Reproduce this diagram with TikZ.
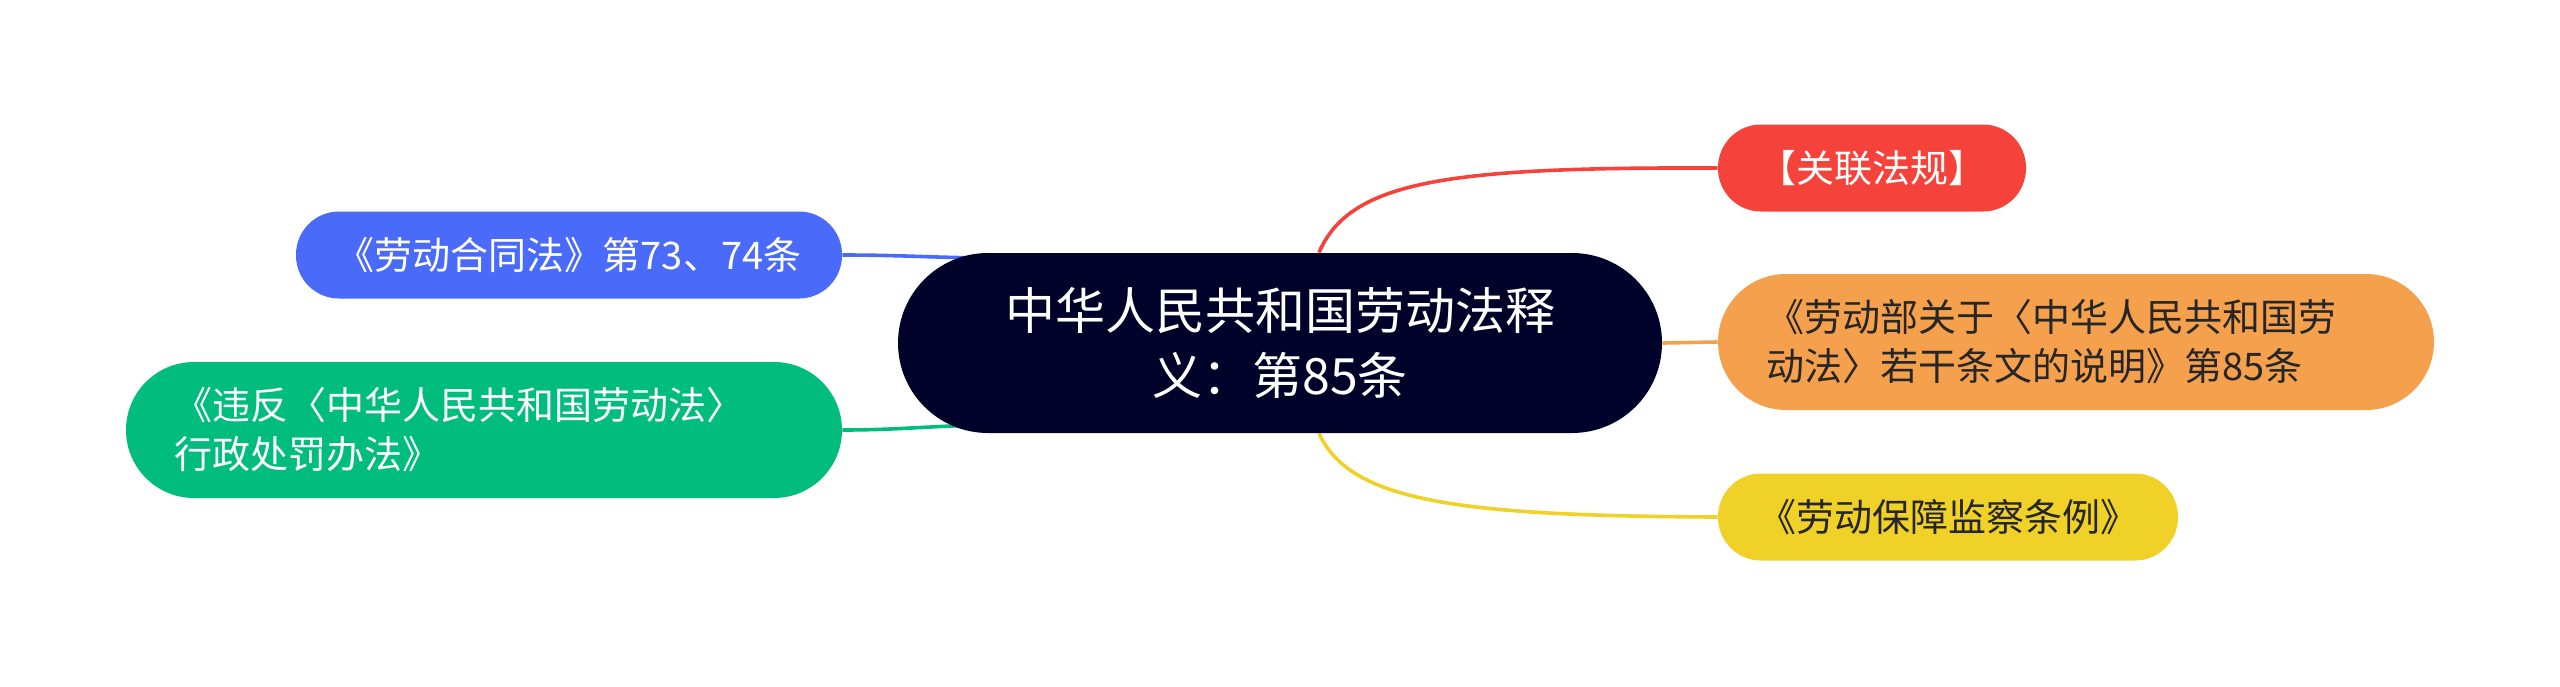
\documentclass[tikz,border=0pt]{standalone}
\usepackage{fontspec}
\newfontfamily\cjk{Noto Sans CJK SC}
\usetikzlibrary{backgrounds}
\definecolor{rootfill}{HTML}{000229}
\definecolor{redfill}{HTML}{F5433B}
\definecolor{orangefill}{HTML}{F5A04C}
\definecolor{yellowfill}{HTML}{F0D127}
\definecolor{bluefill}{HTML}{4A6BFA}
\definecolor{greenfill}{HTML}{00BD7E}
\definecolor{darktext}{HTML}{262626}
\begin{document}
\begin{tikzpicture}[x=0.5pt, y=-0.5pt,
    topic/.style={inner sep=0pt, font=\cjk\fontsize{19}{24.5}\selectfont},
    small/.style={topic, minimum height=43.5pt, rounded corners=21.5pt},
    large/.style={topic, minimum width=358pt, minimum height=68pt, rounded corners=34pt,
      align=left, text width=310pt},
    link/.style={line width=1.8pt}]
    \useasboundingbox (0, 0) rectangle (2560, 686);
    \node[fill=rootfill, text=white, minimum width=382pt, minimum height=90pt, rounded corners=45pt,
      align=center, font=\cjk\fontsize{25}{32.5}\selectfont] (root) at (1280, 343)
      {中华人民共和国劳动法释\\义：第85条};
    \node[small, fill=redfill, text=white, minimum width=154pt] (red) at (1872, 168) {【关联法规】};
    \node[large, fill=orangefill, text=darktext] (orange) at (2076, 342)
      {《劳动部关于〈中华人民共和国劳\\动法〉若干条文的说明》第85条};
    \node[small, fill=yellowfill, text=darktext, minimum width=230pt] (yellow) at (1948, 517) {《劳动保障监察条例》};
    \node[small, fill=bluefill, text=white, minimum width=273pt] (blue) at (569, 255) {《劳动合同法》第73、74条};
    \node[large, fill=greenfill, text=white] (green) at (484, 430)
      {《违反〈中华人民共和国劳动法〉\\行政处罚办法》};
    \begin{scope}[on background layer]
      \draw[link, redfill] ([xshift=19.5pt]root.north) .. controls (1350, 180) and (1450, 167) .. (red.west);
      \draw[link, orangefill] (root.east) -- (orange.west);
      \draw[link, yellowfill] ([xshift=19.5pt]root.south) .. controls (1350, 500) and (1450, 516) .. (yellow.west);
      \draw[link, bluefill] (blue.east) to[out=0, in=180] ([xshift=51pt, yshift=42.5pt]root.west);
      \draw[link, greenfill] (green.east) to[out=0, in=180] ([xshift=51pt, yshift=-41pt]root.west);
    \end{scope}
\end{tikzpicture}
\end{document}
